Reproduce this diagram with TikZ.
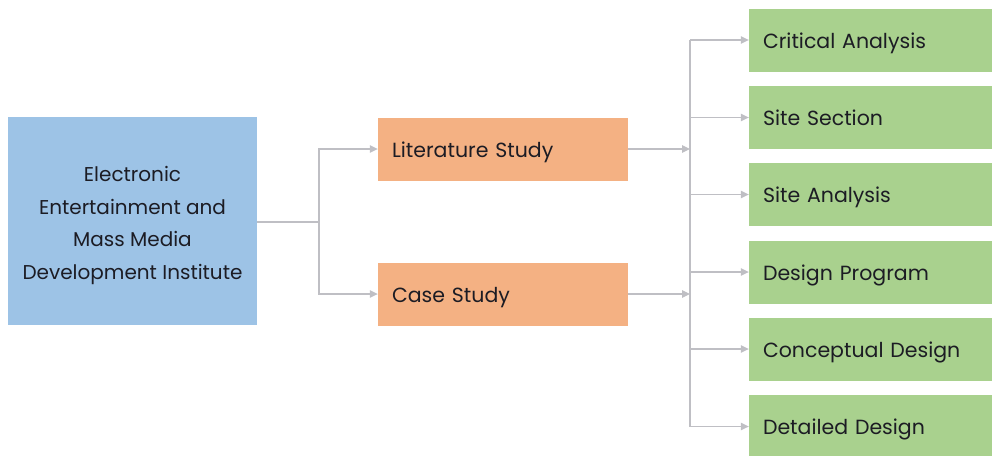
\documentclass[tikz,border=0pt]{standalone}
\usepackage{fontspec}
\setmainfont{Poppins}
\usetikzlibrary{arrows.meta}
\definecolor{bluebox}{HTML}{9DC3E6}
\definecolor{orangebox}{HTML}{F4B183}
\definecolor{greenbox}{HTML}{A9D18E}
\definecolor{linegray}{HTML}{BFBFC4}
\definecolor{txt}{HTML}{1C1C24}
\begin{document}
\begin{tikzpicture}[x=1pt,y=-1pt,
  box/.style={rectangle, inner sep=0pt, text=txt},
  mainbox/.style={box, fill=bluebox, minimum width=249pt, minimum height=208pt, align=center, text height=121pt, text depth=5pt, font=\fontsize{20}{32.5}\selectfont},
  midbox/.style={box, fill=orangebox, minimum width=250pt, minimum height=63pt, text width=222pt, align=left, text height=17pt, text depth=1pt, font=\fontsize{20.5}{24}\selectfont},
  leafbox/.style={box, fill=greenbox, minimum width=243pt, minimum height=63pt, text width=215pt, align=left, text height=17pt, text depth=1pt, font=\fontsize{20.5}{24}\selectfont},
  conn/.style={draw=linegray, line width=1.1pt},
  arr/.style={conn, -{Triangle[width=7.5pt,length=8pt]}}
]
\useasboundingbox (0,0) rectangle (992,455);
\clip (0,0) rectangle (992,455);
\node[mainbox] (inst) at (132.5,221) {Electronic\\Entertainment and\\Mass Media\\Development Institute};
\node[midbox] (lit) at (503,149) {Literature Study};
\node[midbox] (case) at (503,294) {Case Study};
\node[leafbox] (g1) at (870.5,40) {Critical Analysis};
\node[leafbox] (g2) at (870.5,117.5) {Site Section};
\node[leafbox] (g3) at (870.5,194.5) {Site Analysis};
\node[leafbox] (g4) at (870.5,272) {Design Program};
\node[leafbox] (g5) at (870.5,349) {Conceptual Design};
\node[leafbox] (g6) at (870.5,426.5) {Detailed Design};
\coordinate (lb) at (319,222);
\coordinate (rb) at (690,0);
% left bus
\draw[conn] (inst.east |- lb) -- (lb);
\draw[arr] (lb) |- (lit.west);
\draw[arr] (lb) |- (case.west);
% mid to bus
\draw[arr] (lit.east) -- (lit.east -| rb);
\draw[arr] (case.east) -- (case.east -| rb);
% right bus
\draw[conn] (g1.west -| rb) -- (g6.west -| rb);
\foreach \g in {g1,g2,g3,g4,g5,g6}{
  \draw[arr] (\g.west -| rb) -- (\g.west);
}
\end{tikzpicture}
\end{document}
